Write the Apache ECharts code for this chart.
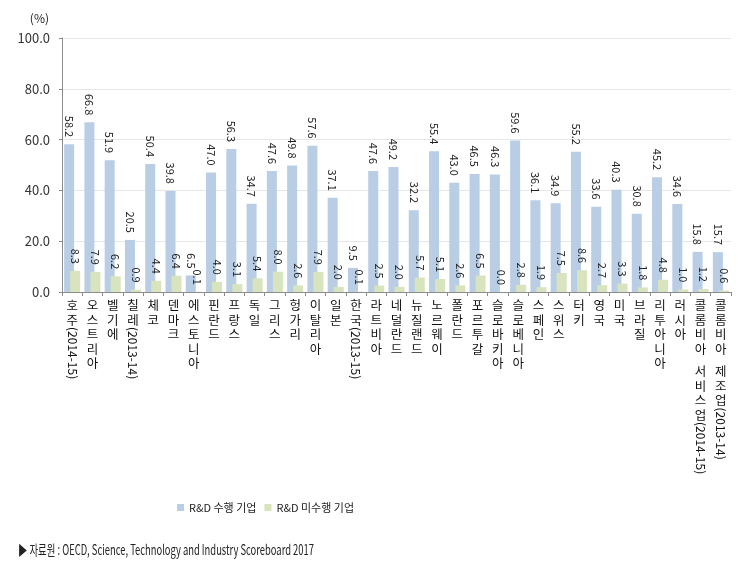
<!DOCTYPE html>
<html><head><meta charset="utf-8">
<script src="https://cdn.jsdelivr.net/npm/echarts@6/dist/echarts.min.js"></script>
<style>html,body{margin:0;padding:0;background:#fff}#c{width:742px;height:572px}</style>
</head><body><div id="c"></div>
<script>
const categories = ['호주(2014-15)','오스트리아','벨기에','칠레(2013-14)','체코','덴마크','에스토니아','핀란드','프랑스','독일','그리스','헝가리','이탈리아','일본','한국(2013-15)','라트비아','네덜란드','뉴질랜드','노르웨이','폴란드','포르투갈','슬로바키아','슬로베니아','스페인','스위스','터키','영국','미국','브라질','리투아니아','러시아','콜롬비아 서비스업(2014-15)','콜롬비아 제조업(2013-14)'];
const rdFirms = [58.2,66.8,51.9,20.5,50.4,39.8,6.5,47.0,56.3,34.7,47.6,49.8,57.6,37.1,9.5,47.6,49.2,32.2,55.4,43.0,46.5,46.3,59.6,36.1,34.9,55.2,33.6,40.3,30.8,45.2,34.6,15.8,15.7];
const nonRdFirms = [8.3,7.9,6.2,0.9,4.4,6.4,0.1,4.0,3.1,5.4,8.0,2.6,7.9,2.0,0.1,2.5,2.0,5.7,5.1,2.6,6.5,0.0,2.8,1.9,7.5,8.6,2.7,3.3,1.8,4.8,1.0,1.2,0.6];
const seriesNames = ['R&D 수행 기업','R&D 미수행 기업'];
const yMin = 0, yMax = 100, yStep = 20;
const yUnit = '(%)';
const sourceNote = '▶ 자료원 : OECD, Science, Technology and Industry Scoreboard 2017';

const KH = 14.5, SH = 8;
function splitName(n){ const i = n.indexOf('('); return i < 0 ? [n, ''] : [n.slice(0, i), n.slice(i)]; }
const mainParts = categories.map(c => splitName(c)[0]);
const parenParts = categories.map(c => splitName(c)[1]);
const offsets = mainParts.map(m => { let h = 0; for (const ch of m) h += (ch === ' ' ? SH : KH); return h; });
const rich2 = { p: { fontSize: 12, fontFamily: 'Noto Sans CJK KR', color: '#111' } };
offsets.forEach((o, i) => { rich2['w' + i] = { width: o, fontSize: 12 }; });

const chart = echarts.init(document.getElementById('c'));
const font = 'Noto Sans CJK KR';
chart.setOption({
  animation: false,
  backgroundColor: '#fff',
  textStyle: { fontFamily: font },
  grid: { left: 62, right: 11, top: 38, bottom: 280, containLabel: false },
  legend: {
    left: 172, top: 497, itemWidth: 7, itemHeight: 7, itemGap: 8, icon: 'rect',
    textStyle: { fontSize: 11, color: '#222', fontFamily: font },
    data: seriesNames
  },
  xAxis: [{
    type: 'category', data: categories, position: 'bottom',
    axisLine: { lineStyle: { color: '#8c8c8c' } },
    axisTick: { show: true, length: 4, lineStyle: { color: '#8c8c8c' } },
    axisLabel: {
      interval: 0, margin: 6, verticalAlign: 'top',
      formatter: (v, i) => mainParts[i].split('').map(ch => ch === ' ' ? '{s| }' : '{k|' + ch + '}').join('\n'),
      rich: { k: { fontSize: 12.5, lineHeight: KH, fontFamily: font, color: '#111' }, s: { fontSize: 8, lineHeight: SH } }
    }
  }, {
    type: 'category', data: categories, position: 'bottom',
    axisLine: { show: false }, axisTick: { show: false },
    axisLabel: {
      interval: 0, margin: 6, rotate: -90,
      formatter: (v, i) => parenParts[i] ? '{w' + i + '| }{p|' + parenParts[i] + '}' : '',
      rich: rich2
    }
  }],
  yAxis: {
    type: 'value', min: yMin, max: yMax, interval: yStep,
    name: yUnit, nameLocation: 'end', nameGap: 14,
    nameTextStyle: { fontSize: 12, color: '#222', align: 'right', verticalAlign: 'bottom', padding: [0, 13, 0, 0] },
    axisLine: { show: true, lineStyle: { color: '#8c8c8c' } },
    axisTick: { show: true, length: 3, lineStyle: { color: '#8c8c8c' } },
    axisLabel: { fontSize: 13, color: '#333', margin: 12, formatter: v => v.toFixed(1) },
    splitLine: { lineStyle: { color: '#e6e6e6' } }
  },
  series: [{
    name: seriesNames[0], type: 'bar', data: rdFirms, xAxisIndex: 0,
    barCategoryGap: '21%', barGap: '-40%',
    itemStyle: { color: '#b9cde5' },
    label: { show: true, position: 'top', rotate: -90, align: 'right', verticalAlign: 'middle', distance: 7,
      fontSize: 11, color: '#222', formatter: p => p.value.toFixed(1) }
  }, {
    name: seriesNames[1], type: 'bar', data: nonRdFirms, xAxisIndex: 0,
    barCategoryGap: '21%', barGap: '-40%',
    itemStyle: { color: '#d7e4bd' },
    label: { show: true, position: 'top', rotate: -90, align: 'right', verticalAlign: 'middle', distance: 7,
      fontSize: 11, color: '#222', formatter: p => p.value.toFixed(1) }
  }],
  graphic: [{
    type: 'text', left: 18, top: 543, scaleX: 0.67,
    style: { text: sourceNote, fontSize: 14, fontFamily: "'Liberation Sans Narrow', 'Noto Sans CJK KR'", fill: '#222' }
  }]
});
</script></body></html>
